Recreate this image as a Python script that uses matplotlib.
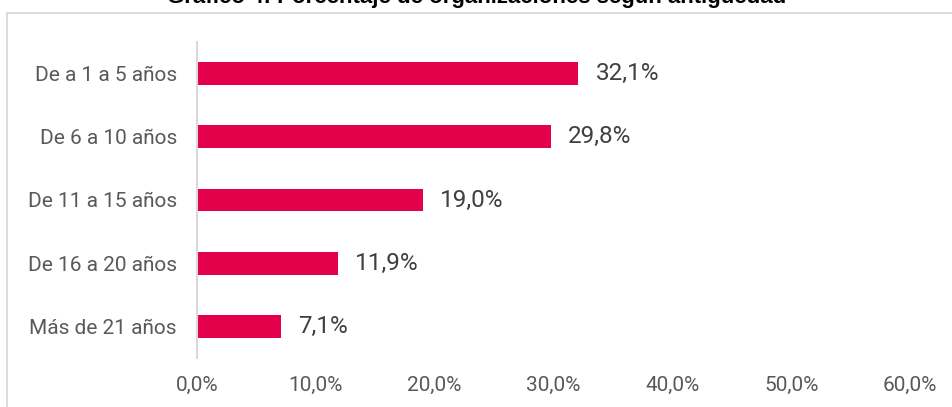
import numpy as np
import matplotlib
matplotlib.use('Agg')
from matplotlib import pyplot as plt
from matplotlib.patches import Rectangle

# data
categories = ['De a 1 a 5 años', 'De 6 a 10 años', 'De 11 a 15 años',
              'De 16 a 20 años', 'Más de 21 años']
values = [32.1, 29.8, 19.0, 11.9, 7.1]
xticks = [0, 10, 20, 30, 40, 50, 60]
title = 'Gráfico 4: Porcentaje de organizaciones según antigüedad'

bar_color = '#E4004B'
text_color = '#595959'

W, H = 953, 407
fig = plt.figure(figsize=(W / 100, H / 100), dpi=100)

# axes placed in pixel coords: x from 197 to 910, y from 42 to 358
ax = fig.add_axes([197 / W, 1 - 358 / H, (910 - 197) / W, (358 - 42) / H])

y = np.arange(len(categories))
ax.barh(y, values, height=0.36, color=bar_color)
ax.set_ylim(len(categories) - 0.5, -0.5)
ax.set_xlim(0, 60)

ax.set_yticks(y)
ax.set_yticklabels(categories, fontsize=15, color=text_color, family='Roboto')
ax.set_xticks(xticks)
ax.set_xticklabels([('%.1f%%' % t).replace('.', ',') for t in xticks],
                   fontsize=15, color=text_color, family='Roboto')
ax.tick_params(axis='y', length=0, pad=14.5)
ax.tick_params(axis='x', length=0, pad=13)

for s in ['top', 'right', 'bottom']:
    ax.spines[s].set_visible(False)
ax.spines['left'].set_color('#d9d9d9')
ax.spines['left'].set_linewidth(1.5)

for yi, v in zip(y, values):
    ax.annotate(('%.1f%%' % v).replace('.', ','), (v, yi), xytext=(17, 0),
                textcoords='offset pixels', va='center', ha='left',
                fontsize=17.5, color='#404040', family='Roboto')

# outer frame (cut off at right and bottom like the source)
fig.patches.append(Rectangle((7.5 / W, -0.1), 2, 1 - 13.5 / H + 0.1,
                             transform=fig.transFigure, fill=False,
                             edgecolor='#d9d9d9', linewidth=1.3))

# title, mostly cut off at the top
fig.text(0.5, 1 - 3.5 / H, title, ha='center', va='baseline', fontsize=16,
         fontweight='bold', family='Liberation Sans', color='black')

fig.savefig('out.png', dpi=100)
